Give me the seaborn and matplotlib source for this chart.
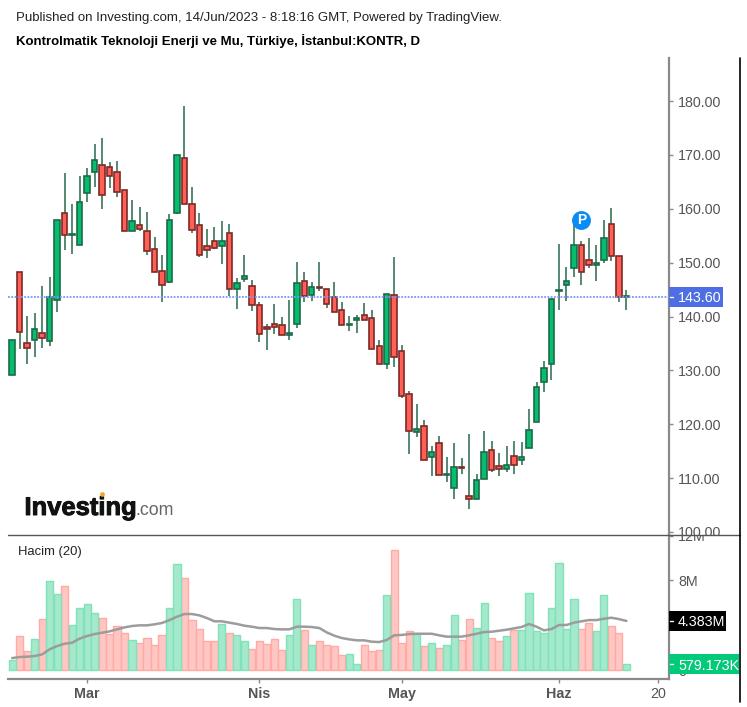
import pandas as pd
import seaborn as sns
from matplotlib import pyplot as plt
from matplotlib import patheffects
from matplotlib.lines import Line2D
from matplotlib.patches import Rectangle
from matplotlib.transforms import Bbox

# daily candles
opens = [129.1, 148.3, 135.0, 135.6, 137.0, 135.4, 143.1, 159.2, 155.1, 153.3, 163.0, 166.8, 168.2, 167.7,
         166.8, 163.4, 155.9, 157.0, 155.9, 152.6, 148.4, 146.5, 159.3, 169.5, 160.9, 157.0, 153.1, 154.0,
         153.1, 155.6, 145.2, 147.0, 145.7, 142.2, 138.0, 138.7, 138.5, 136.6, 138.7, 146.6, 144.0, 145.5,
         145.2, 143.6, 141.3, 138.4, 139.4, 140.3, 139.8, 134.5, 131.2, 144.0, 133.6, 125.7, 118.5, 119.7,
         114.0, 116.6, 110.5, 108.2, 112.1, 106.7, 106.1, 109.9, 115.3, 112.2, 111.7, 114.1, 113.4, 115.5,
         120.4, 127.8, 131.2, 144.7, 145.8, 149.1, 153.3, 150.5, 149.6, 150.5, 157.1, 151.2, 143.6]
highs = [135.7, 148.3, 140.1, 140.6, 145.7, 147.3, 158.0, 166.6, 160.8, 166.1, 167.5, 172.1, 173.1, 168.7,
         168.9, 163.4, 161.7, 160.3, 159.4, 154.8, 151.5, 159.0, 170.0, 179.1, 164.1, 159.2, 156.2, 156.7,
         157.8, 157.2, 147.1, 151.5, 146.8, 142.7, 138.7, 142.3, 140.0, 143.0, 150.1, 148.3, 146.5, 150.1,
         145.2, 146.4, 142.7, 140.1, 140.2, 142.5, 141.3, 135.6, 144.2, 151.0, 134.8, 126.2, 123.7, 120.7,
         116.0, 117.9, 114.0, 116.5, 113.7, 118.1, 110.7, 118.8, 116.8, 114.6, 116.0, 116.9, 116.7, 122.8,
         127.9, 131.8, 143.2, 153.4, 149.2, 157.3, 154.1, 154.6, 153.2, 157.9, 160.1, 151.2, 144.9]
lows = [129.1, 134.0, 131.2, 132.5, 134.2, 134.6, 140.9, 152.3, 151.6, 153.3, 161.3, 164.1, 160.0, 163.9,
        162.2, 155.8, 155.9, 155.9, 151.4, 148.2, 142.7, 146.3, 159.0, 160.9, 155.6, 151.1, 150.9, 152.6,
        149.7, 143.8, 141.4, 146.5, 141.1, 135.3, 133.7, 136.7, 136.6, 135.6, 137.9, 142.7, 142.9, 144.8,
        141.6, 140.8, 138.4, 137.4, 137.0, 139.3, 134.0, 131.2, 130.2, 130.7, 124.9, 114.5, 117.7, 113.4,
        110.3, 110.6, 109.3, 106.1, 110.8, 104.3, 106.1, 109.9, 111.2, 110.3, 111.2, 110.8, 112.4, 115.5,
        120.4, 126.0, 128.2, 141.2, 142.8, 147.4, 145.8, 149.0, 146.6, 150.0, 150.4, 142.7, 141.3]
closes = [135.7, 137.1, 134.1, 137.6, 136.0, 143.6, 158.0, 155.1, 155.4, 161.3, 166.1, 169.1, 162.6, 166.1,
          163.2, 155.8, 157.7, 156.3, 152.2, 148.2, 145.8, 158.0, 170.0, 160.9, 156.1, 151.4, 152.3, 152.8,
          154.0, 145.2, 146.3, 147.5, 142.1, 136.8, 137.7, 138.1, 136.6, 136.9, 146.2, 143.8, 145.4, 145.3,
          142.3, 140.8, 138.4, 138.7, 139.7, 139.3, 134.0, 131.2, 144.2, 132.4, 125.2, 118.7, 119.2, 113.4,
          114.8, 110.6, 110.8, 112.0, 111.9, 106.1, 109.7, 114.8, 111.5, 111.7, 112.5, 112.4, 113.9, 119.0,
          126.9, 130.4, 143.2, 145.0, 146.6, 153.3, 148.2, 149.6, 149.9, 154.5, 151.2, 143.6, 143.9]

# volume in millions and its 20 day average
volumes = [0.89, 3.0, 1.67, 2.77, 4.55, 7.92, 6.79, 7.47, 3.99, 5.57, 5.89, 5.12, 4.67, 3.21, 3.9, 3.33,
           2.65, 2.44, 2.89, 2.2, 3.1, 5.57, 9.46, 8.24, 4.43, 3.66, 2.56, 2.56, 4.11, 3.33, 3.1, 2.56,
           1.88, 2.56, 2.29, 2.77, 1.76, 3.1, 6.34, 3.54, 2.2, 2.56, 2.2, 2.11, 1.31, 1.43, 0.54, 2.2,
           1.67, 1.76, 6.67, 10.68, 2.44, 3.45, 3.21, 2.11, 2.44, 2.0, 2.2, 4.88, 2.65, 4.55, 3.78, 6.01,
           2.89, 2.56, 3.0, 3.54, 3.54, 6.9, 3.45, 3.33, 5.57, 9.58, 3.66, 6.34, 3.66, 4.23, 3.45, 6.67,
           3.9, 3.33, 0.579]
vol_ma = [1.07, 1.16, 1.19, 1.25, 1.40, 1.85, 2.14, 2.35, 2.44, 2.80, 3.04, 3.21, 3.33, 3.45, 3.63, 3.81,
          3.93, 3.99, 3.99, 4.08, 4.20, 4.46, 4.76, 5.0, 5.0, 4.88, 4.64, 4.35, 4.35, 4.23, 4.11, 3.96,
          3.87, 3.75, 3.75, 3.66, 3.63, 3.63, 3.87, 3.87, 3.84, 3.75, 3.36, 3.07, 2.86, 2.74, 2.65, 2.65,
          2.53, 2.5, 2.68, 3.1, 3.13, 3.21, 3.24, 3.24, 3.24, 3.1, 2.98, 2.98, 2.98, 3.1, 3.24, 3.39,
          3.42, 3.51, 3.6, 3.72, 3.84, 4.11, 3.87, 3.54, 3.66, 4.02, 4.02, 4.23, 4.35, 4.46, 4.46, 4.58,
          4.67, 4.55, 4.383]

price_ticks = [100, 110, 120, 130, 140, 150, 160, 170, 180]
vol_ticks = [0, 4, 8, 12]
# the 4M label sits behind the black average tag in the original
vol_tick_labels = ["0", "", "8M", "12M"]
date_ticks = [10, 33, 52, 73, 86.2]
date_labels = ["Mar", "Nis", "May", "Haz", "20"]
last_price = 143.60

W, H = 747, 707
GREY = "#555555"
AXIS = "#8a8a8a"

sns.set_theme(style="white")
plt.rcParams["font.family"] = ["Liberation Sans", "DejaVu Sans"]

df = pd.DataFrame({"open": opens, "high": highs, "low": lows, "close": closes,
                   "vol": volumes, "ma": vol_ma})
df["day"] = df.index
df["up"] = df["close"] >= df["open"]


def fx(x):
    return x / W


def fy(y):
    return 1 - y / H


fig = plt.figure(figsize=(W / 100, H / 100), dpi=100)
ax = fig.add_axes([fx(8), fy(534.5), (669 - 8) / W, (534.5 - 58) / H])
ax_vol = fig.add_axes([fx(8), fy(679), (669 - 8) / W, (679 - 534.5) / H])

# candles
ax.vlines(df["day"], df["low"], df["high"], color="#3a7459", linewidth=1.2, zorder=2)
bottoms = df[["open", "close"]].min(axis=1)
heights = (df["open"] - df["close"]).abs()
ax.bar(df["day"], heights, bottom=bottoms, width=0.72,
       color=df["up"].map({True: "#05bd6c", False: "#ff5f54"}),
       edgecolor=df["up"].map({True: "#1b6a4a", False: "#7d2a28"}),
       linewidth=1.2, zorder=3)
ax.axhline(last_price, color="#7b98f3", linewidth=1.3, linestyle=(0, (1, 0.8)), zorder=4)
ax.scatter([76], [158], s=185, color="#0a8cf5", zorder=5, linewidth=0)
ax.text(76, 158, "P", color="white", fontsize=10, fontweight="bold", ha="center", va="center", zorder=6)

ax.set_xlim(-0.56, 87.69)
ax.set_ylim(99.53, 188)
ax.yaxis.tick_right()
ax.set_yticks(price_ticks, [f"{p:.2f}" for p in price_ticks])
ax.set_xticks([])

# volume pane
sns.barplot(data=df, x="day", y="vol", hue="up", palette={True: "#a4e9cc", False: "#ffc7c3"},
            dodge=False, native_scale=True, width=0.95, saturation=1, legend=False, linewidth=1, ax=ax_vol)
for bar, up in zip(sorted(ax_vol.patches, key=lambda b: b.get_x()), df["up"]):
    bar.set_edgecolor("#7fe2b8" if up else "#ffaaa4")
sns.lineplot(data=df, x="day", y="ma", color="#9c9c9c", linewidth=1.8, errorbar=None, ax=ax_vol, zorder=4)

ax_vol.set_xlim(-0.56, 87.69)
ax_vol.set_ylim(-0.80, 12.1)
ax_vol.set_xlabel("")
ax_vol.set_ylabel("")
ax_vol.yaxis.tick_right()
ax_vol.set_yticks(vol_ticks, vol_tick_labels)
ax_vol.set_xticks(date_ticks, date_labels)

for a in (ax, ax_vol):
    a.patch.set_alpha(0)
    sns.despine(ax=a, left=True, top=True, bottom=a is ax, right=False)
    a.spines["right"].set_color(AXIS)
    a.spines["right"].set_linewidth(1.6)
    a.tick_params(axis="y", which="major", right=True, length=3, width=1, color=AXIS,
                  labelsize=10.3, labelcolor=GREY, pad=3.5)
ax_vol.spines["bottom"].set_color(AXIS)
ax_vol.spines["bottom"].set_linewidth(1.6)
ax_vol.tick_params(axis="x", bottom=True, length=3, width=1, color=AXIS, labelsize=10.3, labelcolor=GREY, pad=2.5)
for lbl in ax_vol.get_xticklabels()[:-1]:
    lbl.set_fontweight("bold")

# price and volume labels stop at the line between the panes
for lbl in ax.get_yticklabels():
    lbl.set_clip_box(Bbox.from_extents(0, H - 534.5, W, H))
    lbl.set_clip_on(True)
for lbl in ax_vol.get_yticklabels():
    lbl.set_clip_box(Bbox.from_extents(0, 0, W, H - 534.5))
    lbl.set_clip_on(True)


def value_tag(text, y, x1, color):
    fig.add_artist(Rectangle((fx(668.5), fy(y + 10)), (x1 - 668.5) / W, 20 / H, transform=fig.transFigure,
                             facecolor=color, edgecolor="none", zorder=5))
    fig.add_artist(Line2D([fx(669.5), fx(673)], [fy(y), fy(y)], color="white", linewidth=1, zorder=6))
    fig.text(fx(678), fy(y), text, color="white", fontsize=10.3, va="center_baseline", zorder=7)


value_tag("143.60", 297, 723, "#4e6fe2")
value_tag("4.383M", 621, 726, "#000000")
value_tag("579.173K", 664, 739, "#03c97b")

# frame lines
fig.add_artist(Line2D([fx(8), fx(739.5)], [fy(534.5), fy(534.5)], color="#555555", linewidth=1, zorder=4))
fig.add_artist(Line2D([fx(739.5), fx(739.5)], [fy(58), fy(702)], color="black", linewidth=1.2, zorder=8))

# header
fig.text(fx(16), fy(21.5), "Published on Investing.com, 14/Jun/2023 - 8:18:16 GMT, Powered by TradingView.",
         fontsize=9.55, color="#222222", va="baseline")
fig.text(fx(16), fy(44.5), "Kontrolmatik Teknoloji Enerji ve Mu, Türkiye, İstanbul:KONTR, D",
         fontsize=9.55, fontweight="bold", color="black", va="baseline")
fig.text(fx(18), fy(555), "Hacim (20)", fontsize=9.4, color="#222222", va="baseline")

# logo
logo = fig.text(fx(24.5), fy(515), "Investing", fontsize=18.4, fontweight="bold", color="#111111", va="baseline")
logo.set_path_effects([patheffects.withStroke(linewidth=0.7, foreground="#111111")])
fig.text(fx(135.5), fy(515), ".com", fontsize=12.8, color="#666666", va="baseline")
fig.add_artist(Line2D([fx(102)], [fy(494)], marker="o", markersize=3.4, color="#f5a623",
                      markeredgewidth=0, zorder=5))

fig.savefig("out.png", dpi=100)
